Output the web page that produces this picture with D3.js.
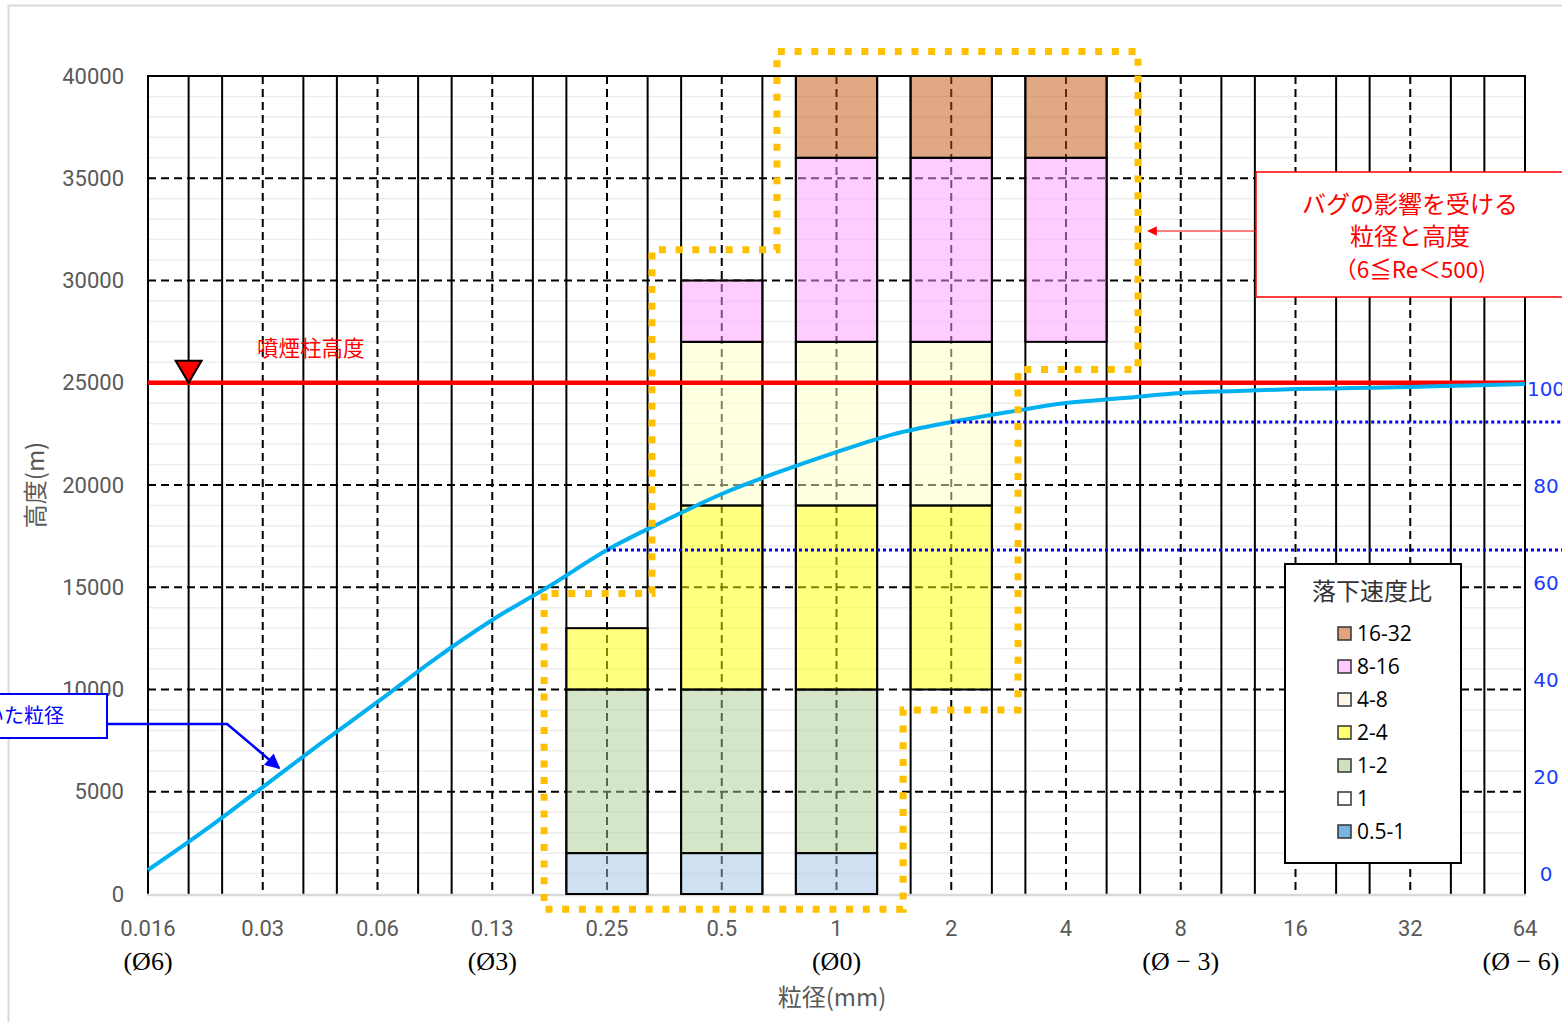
<!DOCTYPE html>
<html><head><meta charset="utf-8">
<script src="https://cdn.jsdelivr.net/npm/d3@7"></script>
<style>body{margin:0;background:#fff;overflow:hidden;} svg{display:block;}</style>
</head><body>
<svg id="c" width="1562" height="1022"></svg>
<script>
// ---------- data ----------
const sizes = [0.015625, 0.03125, 0.0625, 0.125, 0.25, 0.5, 1, 2, 4, 8, 16, 32, 64];
const sizeLabels = ["0.016", "0.03", "0.06", "0.13", "0.25", "0.5", "1", "2", "4", "8", "16", "32", "64"];
const phiLabelSizes = [0.015625, 0.125, 1, 8, 64];
const phiLabels = ["(Ø6)", "(Ø3)", "(Ø0)", "(Ø − 3)", "(Ø − 6)"];
const heightTicks = [0, 5000, 10000, 15000, 20000, 25000, 30000, 35000, 40000];
const pctTicks = [0, 20, 40, 60, 80, 100];

const barSizes = [0.25, 0.5, 1, 2, 4];
const ratioKeys = ["0.5-1", "1", "1-2", "2-4", "4-8", "8-16", "16-32"];
const seg05to1 = [2000, 2000, 2000, 0, 0];
const seg1 = [0, 0, 0, 10000, 27000];
const seg1to2 = [8000, 8000, 8000, 0, 0];
const seg2to4 = [3000, 9000, 9000, 9000, 0];
const seg4to8 = [0, 8000, 8000, 8000, 0];
const seg8to16 = [0, 3000, 9000, 9000, 9000];
const seg16to32 = [0, 0, 4000, 4000, 4000];
const legendOrder = ["16-32", "8-16", "4-8", "2-4", "1-2", "1", "0.5-1"];

const curvePhi = [6, 5.5, 5, 4.5, 4, 3.5, 3, 2.5, 2, 1.5, 1, 0.5, 0, -0.5, -1, -1.5, -2, -2.5, -3, -3.5, -4, -4.5, -5, -5.5, -6];
const curveHeight = [1170, 3130, 5230, 7340, 9390, 11490, 13400, 15060, 16820, 18240, 19560, 20640, 21610, 22490, 23080, 23570, 24010, 24250, 24500, 24600, 24690, 24740, 24790, 24870, 24940];

const columnHeight = 25000;
const refStartSizes = [0.25, 2];
const refHeights = [16820, 23080];

// outline of the affected region (grain size mm, height m)
const zoneSizes   = [0.171, 0.171, 1.495, 1.495, 2.994, 2.994, 6.18, 6.18, 0.698, 0.698, 0.328, 0.328];
const zoneHeights = [14700, -750, -750, 9000, 9000, 25650, 25650, 41200, 41200, 31500, 31500, 14700];

// ---------- styles ----------
const barFill = {"0.5-1": "#9fc1e5", "1": "none", "1-2": "#abcd91", "2-4": "#ffff02", "4-8": "#ffffc4", "8-16": "#ff99ff", "16-32": "#c15309"};
const legendFill = {"0.5-1": "#7ab4e0", "1": "#ffffff", "1-2": "#cde2bd", "2-4": "#ffff70", "4-8": "#fff7e6", "8-16": "#ffc8ff", "16-32": "#e0a37e"};

// ---------- setup ----------
const svg = d3.select("#c");
const W = 1562, H = 1022;
const pL = 148, pR = 1525, pT = 76, pB = 894;
const x = d3.scaleLog().base(2).domain([sizes[0], sizes[sizes.length - 1]]).range([pL, pR]);
const y = d3.scaleLinear().domain([0, 40000]).range([pB, pT]);
const yR = d3.scaleLinear().domain([0, 100]).range([874, 389]);
const step = x(2) - x(1);
const barW = step * 0.708;

const JP = "'Noto Sans CJK JP', 'Noto Sans', sans-serif";

// outer chart frame
svg.append("rect").attr("x", 8.5).attr("y", 5.5).attr("width", 1700).attr("height", 1200)
  .attr("fill", "#fff").attr("stroke", "#d9d9d9").attr("stroke-width", 2);

const g = svg.append("g");

// minor horizontal grid
g.append("g").selectAll("line").data(d3.range(1000, 40000, 1000).filter(v => v % 5000 !== 0))
  .join("line").attr("x1", pL).attr("x2", pR).attr("y1", d => y(d)).attr("y2", d => y(d))
  .attr("stroke", "#ededed").attr("stroke-width", 1.5);

// major horizontal dashed
g.append("g").selectAll("line").data(heightTicks.filter(v => v > 0 && v < 40000))
  .join("line").attr("x1", pL).attr("x2", pR).attr("y1", d => y(d)).attr("y2", d => y(d))
  .attr("stroke", "#000").attr("stroke-width", 2).attr("stroke-dasharray", "8,5");
// top line
g.append("line").attr("x1", pL).attr("x2", pR).attr("y1", y(40000)).attr("y2", y(40000))
  .attr("stroke", "#000").attr("stroke-width", 2);

// vertical dashed at category centers
g.append("g").selectAll("line").data(sizes.slice(1, -1))
  .join("line").attr("x1", d => x(d)).attr("x2", d => x(d)).attr("y1", pT).attr("y2", pB)
  .attr("stroke", "#000").attr("stroke-width", 2).attr("stroke-dasharray", "8,5");
// vertical solid at bar edges
const edges = [];
sizes.forEach(s => { edges.push(x(s) - barW / 2); edges.push(x(s) + barW / 2); });
g.append("g").selectAll("line").data(edges.filter(e => e > pL && e < pR))
  .join("line").attr("x1", d => d).attr("x2", d => d).attr("y1", pT).attr("y2", pB)
  .attr("stroke", "#000").attr("stroke-width", 2);
// axis lines
[pL, pR].forEach(px => g.append("line").attr("x1", px).attr("x2", px).attr("y1", pT - 1).attr("y2", pB)
  .attr("stroke", "#000").attr("stroke-width", 2));
g.append("line").attr("x1", pL - 1).attr("x2", pR + 1).attr("y1", pB + 1).attr("y2", pB + 1)
  .attr("stroke", "#d9d9d9").attr("stroke-width", 2.5);

// ---------- stacked bars ----------
const segs = {"0.5-1": seg05to1, "1": seg1, "1-2": seg1to2, "2-4": seg2to4, "4-8": seg4to8, "8-16": seg8to16, "16-32": seg16to32};
const table = barSizes.map((s, i) => { const o = {size: s}; ratioKeys.forEach(k => o[k] = segs[k][i]); return o; });
const stacked = d3.stack().keys(ratioKeys)(table);
const barG = g.append("g");
stacked.forEach(layer => {
  if (layer.key === "1") return;
  barG.append("g").selectAll("rect").data(layer.filter(d => d[1] > d[0]))
    .join("rect")
    .attr("x", d => x(d.data.size) - barW / 2).attr("width", barW)
    .attr("y", d => y(d[1])).attr("height", d => y(d[0]) - y(d[1]))
    .attr("fill", barFill[layer.key]).attr("fill-opacity", 0.5)
    .attr("stroke", "#000").attr("stroke-width", 2);
});

// ---------- eruption column height ----------
g.append("line").attr("x1", pL).attr("x2", pR).attr("y1", y(columnHeight)).attr("y2", y(columnHeight))
  .attr("stroke", "#ff0000").attr("stroke-width", 4.5);
const triX = x(sizes[0]) + barW / 2, triY = y(columnHeight);
g.append("path").attr("d", `M${triX - 13},${triY - 22} L${triX + 13},${triY - 22} L${triX},${triY} Z`)
  .attr("fill", "#ff0000").attr("stroke", "#000").attr("stroke-width", 2).attr("stroke-linejoin", "miter");
g.append("text").attr("x", 257).attr("y", y(columnHeight) - 34).attr("dy", "0.35em")
  .attr("fill", "#ff0000").attr("font-family", JP).attr("font-size", 21.5).text("噴煙柱高度");

// ---------- cumulative curve ----------
const curveData = curvePhi.map((p, i) => ({size: Math.pow(2, -p), h: curveHeight[i]}));
g.append("path").datum(curveData)
  .attr("d", d3.line().x(d => x(d.size)).y(d => y(d.h)).curve(d3.curveMonotoneX))
  .attr("fill", "none").attr("stroke", "#00b0f0").attr("stroke-width", 4);

// dotted reference lines
g.append("g").selectAll("line").data(refStartSizes.map((s, i) => ({s, h: refHeights[i]})))
  .join("line").attr("x1", d => x(d.s)).attr("x2", W + 10).attr("y1", d => y(d.h)).attr("y2", d => y(d.h))
  .attr("stroke", "#0000ff").attr("stroke-width", 3).attr("stroke-dasharray", "3,3");

// ---------- orange outline ----------
const zone = zoneSizes.map((s, i) => [x(s), y(zoneHeights[i])]);
g.append("path").attr("d", d3.line()(zone) + "Z")
  .attr("fill", "none").attr("stroke", "#ffc000").attr("stroke-width", 7).attr("stroke-dasharray", "7,9.7");

// ---------- axes text ----------
const axG = svg.append("g");
axG.selectAll(".yl").data(heightTicks).join("text")
  .attr("x", 124).attr("y", d => y(d)).attr("dy", "0.35em").attr("text-anchor", "end")
  .attr("font-family", "Roboto, sans-serif").attr("font-size", 22).attr("fill", "#595959").text(d => d);
axG.selectAll(".xl").data(sizes).join("text")
  .attr("x", d => x(d)).attr("y", 928).attr("dy", "0.35em").attr("text-anchor", "middle")
  .attr("font-family", "Roboto, sans-serif").attr("font-size", 22).attr("fill", "#595959")
  .text((d, i) => sizeLabels[i]);
axG.selectAll(".pl").data(phiLabelSizes).join("text")
  .attr("x", (d, i) => Math.min(x(d), 1521)).attr("y", 961).attr("dy", "0.35em").attr("text-anchor", "middle")
  .attr("font-family", "'Liberation Serif', serif").attr("font-size", 26).attr("fill", "#000")
  .text((d, i) => phiLabels[i]);
axG.selectAll(".rl").data(pctTicks).join("text")
  .attr("x", 1546).attr("y", d => yR(d)).attr("dy", "0.35em").attr("text-anchor", "middle")
  .attr("font-family", "'DejaVu Sans', sans-serif").attr("font-size", 20).attr("fill", "#1a3cff").text(d => d);
axG.append("text").attr("x", 832).attr("y", 998).attr("dy", "0.35em").attr("text-anchor", "middle")
  .attr("font-family", JP).attr("font-size", 24).attr("fill", "#595959").text("粒径(mm)");
axG.append("text").attr("transform", "translate(36,485) rotate(-90)").attr("dy", "0.35em").attr("text-anchor", "middle")
  .attr("font-family", JP).attr("font-size", 24).attr("fill", "#595959").text("高度(m)");

// ---------- legend ----------
const lg = svg.append("g");
lg.append("rect").attr("x", 1285).attr("y", 564).attr("width", 176).attr("height", 299)
  .attr("fill", "#fff").attr("stroke", "#000").attr("stroke-width", 2);
lg.append("text").attr("x", 1372).attr("y", 592).attr("dy", "0.35em").attr("text-anchor", "middle")
  .attr("font-family", JP).attr("font-size", 24).attr("fill", "#333").text("落下速度比");
legendOrder.forEach((k, i) => {
  const cy = 634 + i * 33;
  lg.append("rect").attr("x", 1338).attr("y", cy - 7).attr("width", 13).attr("height", 13)
    .attr("fill", legendFill[k]).attr("stroke", "#333").attr("stroke-width", 1.5);
  lg.append("text").attr("x", 1357).attr("y", cy).attr("dy", "0.35em")
    .attr("font-family", "'Open Sans', sans-serif").attr("font-size", 21).attr("fill", "#000").text(k);
});

// ---------- callouts ----------
const defs = svg.append("defs");
defs.append("marker").attr("id", "arrB").attr("viewBox", "0 0 10 10").attr("refX", 9).attr("refY", 5)
  .attr("markerWidth", 7).attr("markerHeight", 6).attr("markerUnits", "strokeWidth").attr("orient", "auto")
  .append("path").attr("d", "M0,0 L10,5 L0,10 Z").attr("fill", "#0000ff");
defs.append("marker").attr("id", "arrR").attr("viewBox", "0 0 10 10").attr("refX", 9).attr("refY", 5)
  .attr("markerWidth", 12).attr("markerHeight", 8).attr("markerUnits", "strokeWidth").attr("orient", "auto")
  .append("path").attr("d", "M0,0 L10,5 L0,10 Z").attr("fill", "#ff0000");

// red callout
const rc = svg.append("g");
rc.append("line").attr("x1", 1256).attr("y1", 231).attr("x2", x(6.57)).attr("y2", 231)
  .attr("stroke", "#ff0000").attr("stroke-width", 1.2).attr("marker-end", "url(#arrR)");
rc.append("rect").attr("x", 1256).attr("y", 172).attr("width", 400).attr("height", 125)
  .attr("fill", "#fff").attr("stroke", "#ff0000").attr("stroke-width", 1.5);
[["バグの影響を受ける", 205], ["粒径と高度", 237], ["（6≦Re＜500)", 270]].forEach(([t, cy], i) => {
  rc.append("text").attr("x", 1410).attr("y", cy).attr("dy", "0.35em").attr("text-anchor", "middle")
    .attr("font-family", JP).attr("font-size", i < 2 ? 24 : 22.5).attr("fill", "#ff0000").text(t);
});

// blue callout
const bc = svg.append("g");
const yLead = y(8313);
bc.append("path").attr("d", `M107,${yLead} L${x(0.0252)},${yLead} L${x(0.0345)},${y(6160)}`)
  .attr("fill", "none").attr("stroke", "#0000ff").attr("stroke-width", 2.5).attr("marker-end", "url(#arrB)");
bc.append("rect").attr("x", -200).attr("y", 694).attr("width", 307).attr("height", 44)
  .attr("fill", "#fff").attr("stroke", "#0000ff").attr("stroke-width", 2);
bc.append("text").attr("x", 64).attr("y", 716).attr("dy", "0.35em").attr("text-anchor", "end")
  .attr("font-family", JP).attr("font-size", 20).attr("fill", "#0000ff").text("計算に用いた粒径");
</script>
</body></html>
